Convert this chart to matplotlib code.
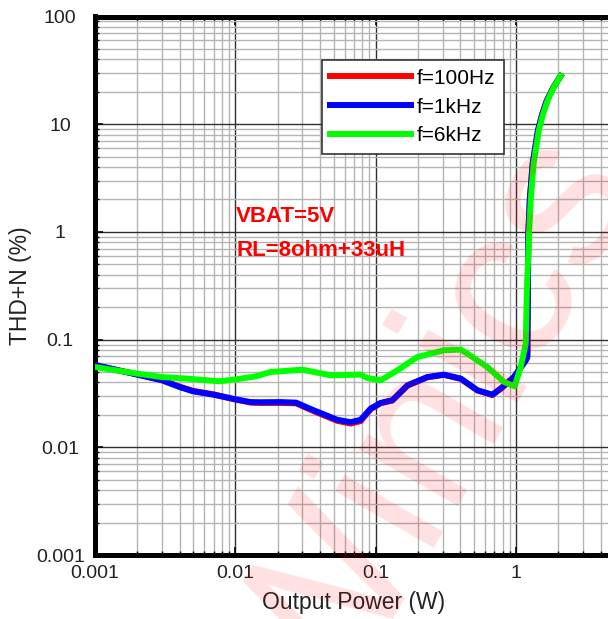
import matplotlib
matplotlib.use("Agg")
import matplotlib.pyplot as plt
from matplotlib.ticker import LogLocator, FixedLocator, NullFormatter

plt.rcParams['font.family'] = ['Liberation Sans', 'DejaVu Sans']

# THD+N vs output power, three test frequencies
p_100 = [0.001, 0.002, 0.003, 0.004, 0.005, 0.007, 0.01, 0.0128, 0.015, 0.021, 0.027,
         0.0363, 0.0532, 0.0662, 0.078, 0.092, 0.108, 0.124, 0.131, 0.168, 0.233,
         0.306, 0.403, 0.53, 0.676, 0.776, 0.964, 1.17, 1.2, 1.22, 1.25, 1.31, 1.43,
         1.53, 1.65, 1.84, 2.07]
thd_100 = [0.058, 0.0475, 0.0421, 0.0366, 0.0334, 0.0310, 0.0278, 0.0260, 0.0258, 0.0258, 0.0256,
           0.0216, 0.0176, 0.0166, 0.0175, 0.0226, 0.0256, 0.0268, 0.0272, 0.0374, 0.0447,
           0.0470, 0.0432, 0.0337, 0.0306, 0.0350, 0.0448, 0.0643, 0.069, 0.97, 2.0, 4.3, 8.8,
           12.3, 16.5, 22.0, 28.0]

p_1k = [0.001, 0.002, 0.003, 0.004, 0.005, 0.007, 0.01, 0.0128, 0.015, 0.021, 0.027,
        0.0363, 0.0532, 0.0662, 0.078, 0.092, 0.108, 0.124, 0.131, 0.168, 0.233,
        0.306, 0.403, 0.53, 0.676, 0.776, 0.964, 1.17, 1.2, 1.22, 1.25, 1.31, 1.43,
        1.53, 1.65, 1.84, 2.07]
thd_1k = [0.058, 0.0473, 0.0419, 0.0363, 0.0331, 0.0308, 0.0279, 0.0263, 0.0262, 0.0263, 0.0260,
          0.0220, 0.0180, 0.0171, 0.0180, 0.0229, 0.0258, 0.0269, 0.0273, 0.0376, 0.0449,
          0.0473, 0.0434, 0.0338, 0.0308, 0.0351, 0.0449, 0.0643, 0.069, 0.97, 2.0, 4.3, 8.8,
          12.3, 16.5, 22.0, 28.0]

p_6k = [0.001, 0.002, 0.003, 0.00455, 0.00764, 0.00977, 0.01396, 0.0178, 0.030, 0.0477,
        0.078, 0.0871, 0.1084, 0.1426, 0.1978, 0.306, 0.403, 0.449, 0.623, 0.819, 0.975,
        1.076, 1.17, 1.19, 1.235, 1.27, 1.33, 1.45, 1.55, 1.67, 1.85, 2.07]
thd_6k = [0.0556, 0.0483, 0.0449, 0.0434, 0.041, 0.0425, 0.0456, 0.050, 0.0526, 0.0466,
          0.0473, 0.044, 0.0419, 0.0519, 0.0689, 0.0796, 0.0807, 0.0741, 0.0556, 0.0404, 0.0368,
          0.0556, 0.0918, 0.27, 0.97, 2.0, 4.3, 8.8, 12.3, 16.5, 22.0, 28.0]

x_ticks = [0.001, 0.01, 0.1, 1]
x_labels = ['0.001', '0.01', '0.1', '1']
y_ticks = [0.001, 0.01, 0.1, 1, 10, 100]
y_labels = ['0.001', '0.01', '0.1', '1', '10', '100']

fig = plt.figure(figsize=(6.08, 6.19), dpi=100)
# right end of the decade grid runs past the edge of the figure
ax = fig.add_axes([95 / 608, 64 / 619, 561.6 / 608, 538.5 / 619])
ax.set_xscale('log')
ax.set_yscale('log')
ax.set_xlim(0.001, 10)
ax.set_ylim(0.001, 100)

ax.plot(p_100, thd_100, color='#ff0000', lw=4.3, label='f=100Hz', zorder=3)
ax.plot(p_1k, thd_1k, color='#0000ff', lw=4.3, label='f=1kHz', zorder=4)
ax.plot(p_6k, thd_6k, color='#00ff00', lw=4.3, label='f=6kHz', zorder=5)

ax.xaxis.set_major_locator(FixedLocator(x_ticks))
ax.set_xticklabels(x_labels)
ax.yaxis.set_major_locator(FixedLocator(y_ticks))
ax.set_yticklabels(y_labels)
ax.xaxis.set_minor_locator(LogLocator(base=10, subs=range(2, 10), numticks=20))
ax.yaxis.set_minor_locator(LogLocator(base=10, subs=range(2, 10), numticks=20))
ax.xaxis.set_minor_formatter(NullFormatter())
ax.yaxis.set_minor_formatter(NullFormatter())

ax.grid(which='major', color='#303030', lw=1.0, zorder=1)
ax.grid(which='minor', color='#b4b4b4', lw=1.0, zorder=1)
ax.set_axisbelow(True)

for side in ['top', 'left', 'bottom']:
    ax.spines[side].set_linewidth(3.6)
    ax.spines[side].set_color('black')

ax.tick_params(which='both', direction='in', top=True, right=True, colors='black')
ax.tick_params(which='major', length=6, width=1.2)
ax.tick_params(which='minor', length=3, width=1.0)
ax.tick_params(axis='y', which='major', pad=25, labelsize=14, labelcolor='#222222')
ax.tick_params(axis='x', which='major', pad=7, labelsize=14, labelcolor='#222222')
for lab in ax.get_yticklabels():
    lab.set_horizontalalignment('center')

ax.set_xlabel('Output Power (W)', fontsize=16.5, color='#222222')
ax.xaxis.set_label_coords(0.46, -0.089)
ax.xaxis.label.set_va('center')
ax.set_ylabel('THD+N (%)', fontsize=16.5, color='#222222')
ax.yaxis.set_label_coords(-0.132, 0.5)
ax.yaxis.label.set_va('center')

ax.text(0.0101, 1.38, 'VBAT=5V', color='#ff0000', fontsize=16, fontweight='bold',
        va='center', ha='left', zorder=6)
ax.text(0.0101, 0.676, 'RL=8ohm+33uH', color='#ff0000', fontsize=16, fontweight='bold',
        va='center', ha='left', zorder=6)

leg = ax.legend(loc='upper left', bbox_to_anchor=(321.7 / 608, 1 - 60 / 619),
                bbox_transform=fig.transFigure, borderaxespad=0, fontsize=15,
                handlelength=3.85, handletextpad=0.3, borderpad=0.42, labelspacing=0.47,
                fancybox=False, framealpha=1, edgecolor='#333333')
leg.get_frame().set_linewidth(1.2)
for ln in leg.get_lines():
    ln.set_linewidth(4.3)
leg.set_zorder(7)

# faint company mark across the plot
fig.text(325 / 608, 1 - 735 / 619, 'Winics', fontsize=155, color='#ff0000', alpha=0.12,
         rotation=60, rotation_mode='anchor', ha='left', va='baseline', zorder=0)

fig.savefig('out.png', dpi=100)
